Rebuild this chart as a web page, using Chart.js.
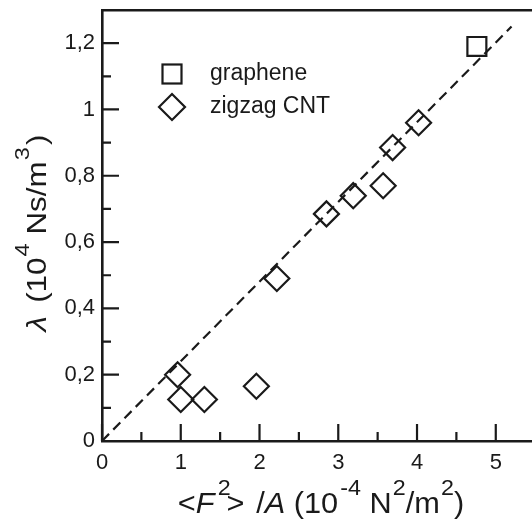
<!DOCTYPE html>
<html lang="en">
<head>
<meta charset="UTF-8" />
<title>Damping vs force fluctuation</title>
<script src="https://cdn.jsdelivr.net/npm/chart.js@4"></script>
<style>
  html, body { margin: 0; padding: 0; background: #fff; }
  #wrap { width: 532px; height: 522px; }
</style>
</head>
<body>
<div id="wrap"><canvas id="chart" width="532" height="522"></canvas></div>
<script>
// values
const grapheneX = [4.76];
const grapheneY = [1.19];
const cntX = [0.96, 1.0, 1.30, 1.96, 2.22, 2.85, 3.19, 3.57, 3.69, 4.02];
const cntY = [0.20, 0.125, 0.125, 0.165, 0.49, 0.685, 0.74, 0.77, 0.885, 0.96];
const fitX = [0, 5.2];
const fitY = [0, 1.25];
const xTicks = [0, 1, 2, 3, 4, 5];
const xTickLabels = ['0', '1', '2', '3', '4', '5'];
const yTicks = [0, 0.2, 0.4, 0.6, 0.8, 1, 1.2];
const yTickLabels = ['0', '0,2', '0,4', '0,6', '0,8', '1', '1,2'];
const seriesLabels = ['graphene', 'zigzag CNT'];

const INK = '#1a1a1a';
const FONT = '"Liberation Sans", Arial, Helvetica, sans-serif';

const toPts = (xs, ys) => xs.map((x, i) => ({ x: x, y: ys[i] }));

// fixed box sizes, and no extra padding for edge labels
function fixBox(prop, size) {
  return s => {
    s[prop] = size;
    s.paddingTop = 0; s.paddingBottom = 0; s.paddingLeft = 0; s.paddingRight = 0;
  };
}

// draw text with italic / superscript pieces, centred on x, slightly widened
function drawRich(ctx, parts, x, y, size, stretch) {
  const supSize = Math.round(size * 0.75);
  const fontFor = p => (p.it ? 'italic ' : '') + (p.sup ? supSize : size) + 'px ' + FONT;
  let total = 0;
  parts.forEach(p => { ctx.font = fontFor(p); total += (p.dx || 0) + ctx.measureText(p.t).width; });
  ctx.save();
  ctx.translate(x, y);
  ctx.scale(stretch, 1);
  let cx = -total / 2;
  ctx.textAlign = 'left';
  ctx.textBaseline = 'alphabetic';
  parts.forEach(p => {
    ctx.font = fontFor(p);
    cx += p.dx || 0;
    ctx.fillText(p.t, cx, p.sup ? -size * 0.62 : 0);
    cx += ctx.measureText(p.t).width;
  });
  ctx.restore();
}

const decorPlugin = {
  id: 'decor',
  afterDatasetsDraw(chart) {
    const ctx = chart.ctx;
    const xs = chart.scales.x, ys = chart.scales.y;
    const area = chart.chartArea;
    ctx.save();
    ctx.strokeStyle = INK;
    ctx.lineWidth = 2.2;
    // inward ticks
    ctx.beginPath();
    xTicks.forEach(v => {
      const px = xs.getPixelForValue(v);
      ctx.moveTo(px, area.bottom); ctx.lineTo(px, area.bottom - 17);
      const pm = xs.getPixelForValue(v + 0.5);
      if (pm < area.right) { ctx.moveTo(pm, area.bottom); ctx.lineTo(pm, area.bottom - 9); }
    });
    yTicks.forEach(v => {
      const py = ys.getPixelForValue(v);
      ctx.moveTo(area.left, py); ctx.lineTo(area.left + 17, py);
      const pm = ys.getPixelForValue(v + 0.1);
      if (pm > area.top + 2) { ctx.moveTo(area.left, pm); ctx.lineTo(area.left + 9, pm); }
    });
    ctx.stroke();

    // legend
    const lx = 172, l1 = 74, l2 = 107;
    ctx.lineWidth = 2.2;
    ctx.strokeRect(lx - 9.5, l1 - 9.5, 19, 19);
    ctx.beginPath();
    ctx.moveTo(lx - 13, l2); ctx.lineTo(lx, l2 - 13); ctx.lineTo(lx + 13, l2); ctx.lineTo(lx, l2 + 13);
    ctx.closePath();
    ctx.stroke();
    ctx.fillStyle = INK;
    ctx.font = '23px ' + FONT;
    ctx.textAlign = 'left';
    ctx.textBaseline = 'middle';
    ctx.fillText(seriesLabels[0], 210, l1);
    ctx.fillText(seriesLabels[1], 210, l2);

    // axis titles
    drawRich(ctx, [
      { t: '<' }, { t: 'F', it: true }, { t: '2', sup: true, dx: 3 }, { t: '>', dx: -4 },
      { t: ' /', dx: 3 }, { t: 'A', it: true }, { t: ' (10' }, { t: '-4', sup: true, dx: 2 },
      { t: ' N' }, { t: '2', sup: true, dx: 1 }, { t: '/m' }, { t: '2', sup: true, dx: 1 }, { t: ')' }
    ], 321, 513, 29, 1.06);

    ctx.translate(46, 233);
    ctx.rotate(-Math.PI / 2);
    drawRich(ctx, [
      { t: 'λ', it: true }, { t: ' (10', dx: 4 }, { t: '4', sup: true, dx: 1 }, { t: ' Ns/m' },
      { t: '3', sup: true, dx: 1 }, { t: ')', dx: 2 }
    ], 0, 0, 28, 1.12);
    ctx.restore();
  }
};

const ctx = document.getElementById('chart').getContext('2d');
const chart = new Chart(ctx, {
  data: {
    datasets: [
      {
        type: 'line',
        label: 'fit',
        data: toPts(fitX, fitY),
        borderColor: INK,
        borderWidth: 2.2,
        borderDash: [10, 6],
        pointRadius: 0,
        fill: false,
        tension: 0
      },
      {
        type: 'scatter',
        label: seriesLabels[0],
        data: toPts(grapheneX, grapheneY),
        pointStyle: 'rect',
        pointRadius: 13.4,
        pointBorderWidth: 2.2,
        pointBorderColor: INK,
        pointBackgroundColor: 'rgba(0,0,0,0)'
      },
      {
        type: 'scatter',
        label: seriesLabels[1],
        data: toPts(cntX, cntY),
        pointStyle: 'rectRot',
        pointRadius: 12.5,
        pointBorderWidth: 2.2,
        pointBorderColor: INK,
        pointBackgroundColor: 'rgba(0,0,0,0)'
      }
    ]
  },
  options: {
    responsive: false,
    devicePixelRatio: 1,
    animation: false,
    layout: { padding: 0, autoPadding: false },
    plugins: {
      legend: { display: false },
      tooltip: { enabled: false }
    },
    scales: {
      x: {
        type: 'linear',
        position: 'bottom',
        min: 0,
        max: 5.46,
        afterBuildTicks: s => { s.ticks = xTicks.map(v => ({ value: v })); },
        afterFit: fixBox('height', 81),
        grid: { display: false, drawTicks: false },
        border: { display: true, color: INK, width: 2.6 },
        ticks: {
          color: INK,
          font: { family: FONT, size: 22 },
          padding: 9,
          maxRotation: 0,
          callback: (v, i) => xTickLabels[i]
        }
      },
      xTop: {
        type: 'linear',
        axis: 'x',
        position: 'top',
        min: 0,
        max: 5.46,
        afterFit: fixBox('height', 10),
        grid: { display: false, drawTicks: false },
        border: { display: true, color: INK, width: 2.6 },
        ticks: { display: false }
      },
      y: {
        type: 'linear',
        position: 'left',
        min: 0,
        max: 1.3,
        afterBuildTicks: s => { s.ticks = yTicks.map(v => ({ value: v })); },
        afterFit: fixBox('width', 102),
        grid: { display: false, drawTicks: false },
        border: { display: true, color: INK, width: 2.6 },
        ticks: {
          color: INK,
          font: { family: FONT, size: 22 },
          padding: 7,
          callback: (v, i) => yTickLabels[i]
        }
      }
    }
  },
  plugins: [decorPlugin]
});
</script>
</body>
</html>
